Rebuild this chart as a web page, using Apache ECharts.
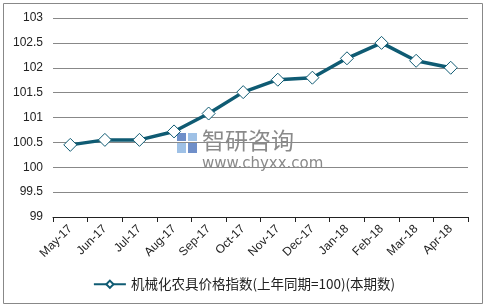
<!DOCTYPE html>
<html>
<head>
<meta charset="utf-8">
<script src="https://cdn.jsdelivr.net/npm/echarts@6/dist/echarts.min.js"></script>
<style>
  html, body { margin: 0; padding: 0; background: #fff; }
  #chart { width: 488px; height: 308px; }
</style>
</head>
<body>
<div id="chart"></div>
<script>
const months = ['May-17', 'Jun-17', 'Jul-17', 'Aug-17', 'Sep-17', 'Oct-17',
  'Nov-17', 'Dec-17', 'Jan-18', 'Feb-18', 'Mar-18', 'Apr-18'];
const indexValues = [100.45, 100.55, 100.55, 100.72, 101.08, 101.51,
  101.76, 101.8, 102.19, 102.5, 102.14, 102.0];
const seriesName = '机械化农具价格指数(上年同期=100)(本期数)';

const lineColor = '#0f5b73';
const chart = echarts.init(document.getElementById('chart'));

chart.setOption({
  backgroundColor: '#fff',
  animation: false,
  grid: { left: 53, right: 20, top: 18, bottom: 91 },
  graphic: [
    {
      type: 'rect',
      shape: { x: 3.5, y: 3.5, width: 479, height: 300 },
      style: { fill: 'none', stroke: '#888', lineWidth: 1 },
      z: 0
    },
    // watermark
    {
      type: 'group', left: 177, top: 133, z: 1,
      children: [
        { type: 'rect', shape: { x: 0, y: 0, width: 9, height: 8 }, style: { fill: '#6f8fc9' } },
        { type: 'rect', shape: { x: 11, y: 0, width: 9, height: 8 }, style: { fill: '#9fc1e6' } },
        { type: 'rect', shape: { x: 0, y: 10, width: 9, height: 10 }, style: { fill: '#9fc1e6' } },
        { type: 'rect', shape: { x: 11, y: 10, width: 9, height: 10 }, style: { fill: '#6f8fc9' } }
      ]
    },
    {
      type: 'text', left: 202, top: 129, z: 1,
      style: { text: '智研咨询', fill: '#8a8a8a', font: '23px "Noto Sans CJK SC"' }
    },
    {
      type: 'text', left: 202, top: 157, z: 1,
      style: { text: 'www.chyxx.com', fill: '#8a8a8a', font: '15px "DejaVu Sans"' }
    }
  ],
  legend: {
    bottom: 12,
    left: 'center',
    itemWidth: 32,
    itemHeight: 9,
    itemGap: 2,
    textStyle: { fontSize: 13.5, color: '#222', fontFamily: '"Noto Sans CJK SC"' },
    data: [seriesName]
  },
  xAxis: {
    type: 'category',
    data: months,
    boundaryGap: true,
    axisLine: { lineStyle: { color: '#222', width: 1 } },
    axisTick: { show: true, length: 5, interval: 0, lineStyle: { color: '#222' } },
    axisLabel: {
      interval: 0,
      rotate: 45,
      fontSize: 12,
      color: '#222',
      fontFamily: '"Liberation Sans", Arial',
      margin: 10
    },
    splitLine: { show: false }
  },
  yAxis: {
    type: 'value',
    min: 99,
    max: 103,
    interval: 0.5,
    axisLine: { show: false },
    axisTick: { show: false },
    axisLabel: { fontSize: 12, color: '#222', fontFamily: '"Liberation Sans", Arial', margin: 10 },
    splitLine: { lineStyle: { color: '#888', width: 1 } }
  },
  series: [
    {
      name: seriesName,
      type: 'line',
      data: indexValues,
      z: 3,
      symbol: 'diamond',
      symbolSize: 13,
      lineStyle: { color: lineColor, width: 3.5 },
      itemStyle: { color: '#fff', borderColor: lineColor, borderWidth: 1 }
    }
  ]
});
</script>
</body>
</html>
